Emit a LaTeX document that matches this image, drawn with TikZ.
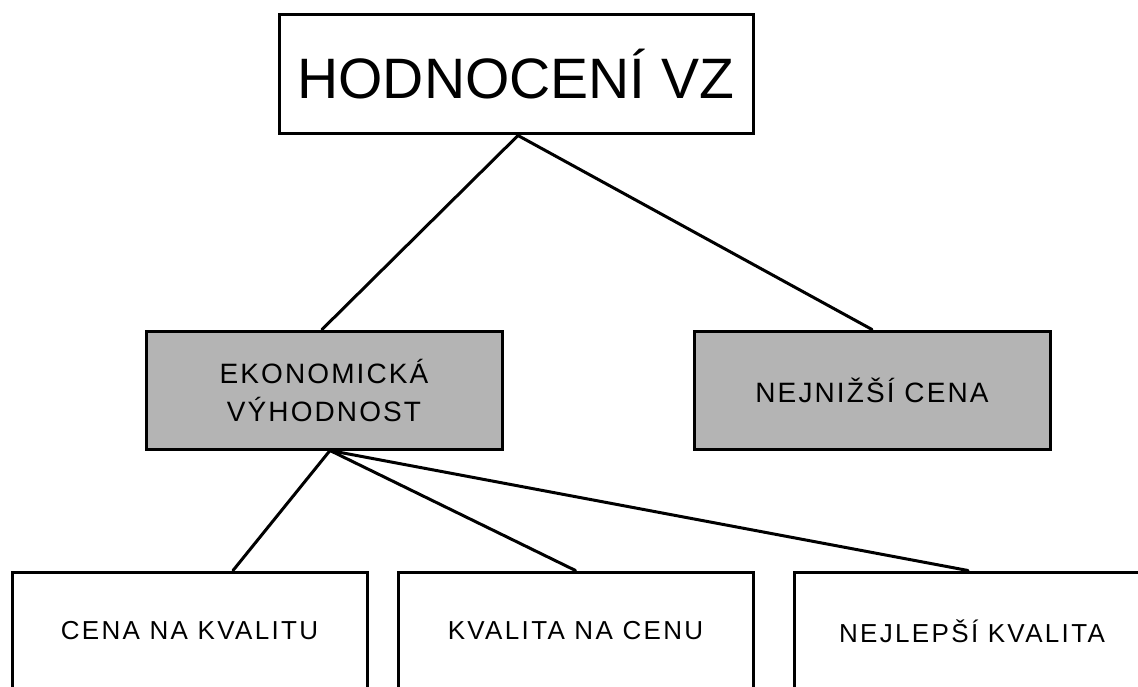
\documentclass[tikz,border=0pt]{standalone}
\usepackage{fontspec}
\setmainfont{Liberation Sans}
\usetikzlibrary{calc}
\definecolor{boxgray}{RGB}{180,180,180}
\tikzset{
  box/.style={draw=black, line width=3pt, fill=white, inner sep=0pt, minimum height=118pt, align=center},
  graybox/.style={box, fill=boxgray},
  conn/.style={line width=3pt, line cap=round},
  midtext/.style={font=\fontsize{28}{38}\selectfont\addfontfeature{LetterSpace=7.5}},
  lowtext/.style={font=\fontsize{26}{30}\selectfont\addfontfeature{LetterSpace=9}}
}
\begin{document}
\begin{tikzpicture}[x=1pt,y=1pt]
\useasboundingbox (0,0) rectangle (1138,-687);
\clip (0,0) rectangle (1138,-687);
\fill[white] (0,0) rectangle (1138,-687);
\node[box, minimum width=474pt, minimum height=119pt, font=\fontsize{57}{60}\selectfont] (top) at (516,-74.5) {HODNOCENÍ VZ};
\node[graybox, minimum width=356pt, midtext] (eko) at (324,-390) {EKONOMICKÁ\\VÝHODNOST};
\node[graybox, minimum width=356pt, midtext] (nej) at (872,-390) {NEJNIŽŠÍ CENA};
\node[box, minimum width=355pt, lowtext] (b1) at (189.5,-631) {CENA NA KVALITU};
\node[box, minimum width=355pt, lowtext] (b2) at (575.5,-631) {KVALITA NA CENU};
\node[box, minimum width=355pt, lowtext] (b3) at (972,-631) {NEJLEPŠÍ KVALITA};
\coordinate (topS) at ($(top.south)+(2,0)$);
\coordinate (ekoN) at ($(eko.north)+(-2,0)$);
\coordinate (ekoS) at ($(eko.south)+(6,0)$);
\coordinate (b1N) at ($(b1.north)+(43.5,0)$);
\coordinate (b3N) at ($(b3.north)+(-4,0)$);
\draw[conn] (topS) -- (ekoN);
\draw[conn] (topS) -- (nej.north);
\draw[conn] (ekoS) -- (b1N);
\draw[conn] (ekoS) -- (b2.north);
\draw[conn] (ekoS) -- (b3N);
\end{tikzpicture}
\end{document}
